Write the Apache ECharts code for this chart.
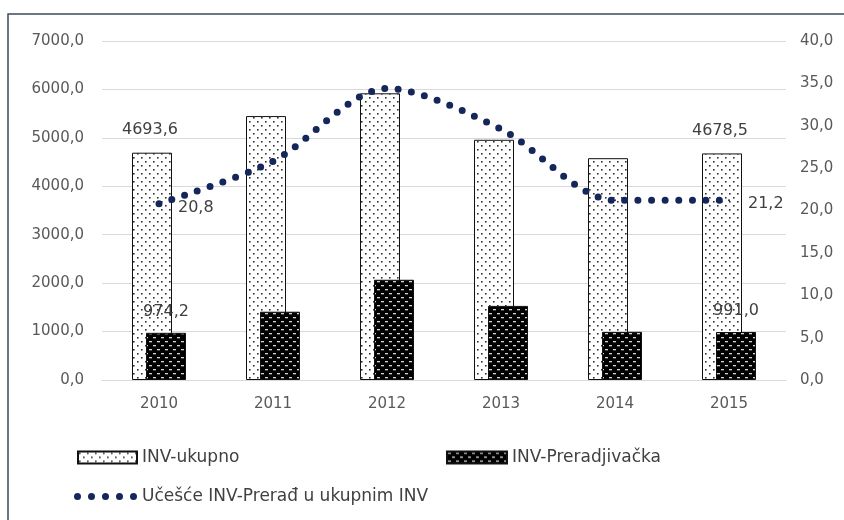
<!DOCTYPE html>
<html>
<head>
<meta charset="utf-8">
<script src="https://cdn.jsdelivr.net/npm/echarts@6/dist/echarts.min.js"></script>
<style>
  html, body { margin: 0; padding: 0; background: #fff; }
  #chart { width: 844px; height: 520px; }
</style>
</head>
<body>
<div id="chart"></div>
<script>
var years = ['2010', '2011', '2012', '2013', '2014', '2015'];
var invUkupno = [4693.6, 5450, 5920, 4960, 4580, 4678.5];
var invPrerad = [974.2, 1410, 2070, 1530, 995, 991.0];
var ucesce = [20.8, 25.8, 34.4, 29.6, 21.2, 21.2];
var leftTicks = { min: 0, max: 7000, interval: 1000 };
var rightTicks = { min: 0, max: 40, interval: 5 };

var FONT = 'DejaVu Sans';

// dotted fill for the total bars
function dotPattern() {
  var c = document.createElement('canvas');
  c.width = 8; c.height = 8;
  var ctx = c.getContext('2d');
  ctx.fillStyle = '#fff';
  ctx.fillRect(0, 0, 8, 8);
  ctx.fillStyle = '#333';
  ctx.fillRect(1, 1, 1.6, 1.6);
  ctx.fillRect(5, 5, 1.6, 1.6);
  return c;
}
// black fill with light dashes for the manufacturing bars
function dashPattern() {
  var c = document.createElement('canvas');
  c.width = 8; c.height = 8;
  var ctx = c.getContext('2d');
  ctx.fillStyle = '#000';
  ctx.fillRect(0, 0, 8, 8);
  ctx.fillStyle = '#d8d8d8';
  ctx.fillRect(1, 1, 3, 1.3);
  ctx.fillRect(5, 5, 3, 1.3);
  return c;
}

// five round dots for the line legend
var dotsIcon = 'path://';
for (var k = 0; k < 5; k++) {
  var cx = 3.5 + k * 14;
  dotsIcon += 'M' + (cx - 3.5) + ',3.5a3.5,3.5 0 1,0 7,0a3.5,3.5 0 1,0 -7,0z';
}

function fmt(v) {
  return v.toFixed(1).replace('.', ',');
}
function edgeLabels(arr, label) {
  return arr.map(function (v, i) {
    if (i === 0 || i === arr.length - 1) {
      return { value: v, label: label };
    }
    return v;
  });
}

var axisText = { color: '#595959', fontFamily: FONT, fontSize: 15 };
var labelText = { color: '#404040', fontFamily: FONT, fontSize: 16 };
var legendText = { color: '#404040', fontFamily: FONT, fontSize: 17 };

var chart = echarts.init(document.getElementById('chart'));
chart.setOption({
  backgroundColor: '#fff',
  animation: false,
  grid: { left: 102, right: 58, top: 41, bottom: 140 },
  graphic: [{
    type: 'rect',
    shape: { x: 8, y: 14, width: 900, height: 600 },
    style: { fill: null, stroke: '#3d4b5c', lineWidth: 1.5 },
    silent: true
  }],
  legend: [
    {
      data: ['INV-ukupno'], left: 72, top: 444, icon: 'rect',
      itemWidth: 59, itemHeight: 12, itemGap: 8,
      textStyle: legendText
    },
    {
      data: ['INV-Preradjivačka'], left: 441, top: 444, icon: 'rect',
      itemWidth: 60, itemHeight: 12, itemGap: 8,
      textStyle: legendText
    },
    {
      data: ['Učešće INV-Prerađ u ukupnim INV'], left: 69, top: 483,
      icon: dotsIcon,
      itemWidth: 63, itemHeight: 7, itemGap: 4,
      textStyle: legendText
    }
  ],
  xAxis: {
    type: 'category',
    data: years,
    axisLine: { show: true, lineStyle: { color: '#d9d9d9' } },
    axisTick: { show: false },
    axisLabel: Object.assign({ margin: 17 }, axisText)
  },
  yAxis: [
    {
      type: 'value',
      min: leftTicks.min, max: leftTicks.max, interval: leftTicks.interval,
      axisLine: { show: false },
      axisTick: { show: false },
      splitLine: { lineStyle: { color: '#d9d9d9' } },
      axisLabel: Object.assign({ margin: 18, formatter: fmt }, axisText)
    },
    {
      type: 'value',
      min: rightTicks.min, max: rightTicks.max, interval: rightTicks.interval,
      axisLine: { show: false },
      axisTick: { show: false },
      splitLine: { show: false },
      axisLabel: Object.assign({ margin: 14, formatter: fmt }, axisText)
    }
  ],
  series: [
    {
      name: 'INV-ukupno',
      type: 'bar',
      barWidth: 40,
      barGap: '-65%',
      itemStyle: {
        color: { image: dotPattern(), repeat: 'repeat' },
        borderColor: '#111', borderWidth: 1
      },
      data: edgeLabels(invUkupno, Object.assign({
        show: true, position: 'top', distance: 12, offset: [-2, -3],
        formatter: function (p) { return fmt(p.value); }
      }, labelText))
    },
    {
      name: 'INV-Preradjivačka',
      type: 'bar',
      barWidth: 40,
      itemStyle: {
        color: { image: dashPattern(), repeat: 'repeat' },
        borderColor: '#111', borderWidth: 1
      },
      data: edgeLabels(invPrerad, Object.assign({
        show: true, position: 'top', distance: 13,
        formatter: function (p) { return fmt(p.value); }
      }, labelText))
    },
    {
      name: 'Učešće INV-Prerađ u ukupnim INV',
      type: 'line',
      yAxisIndex: 1,
      smooth: 0.3,
      symbol: 'circle',
      symbolSize: 2,
      showSymbol: true,
      itemStyle: { color: '#15265a' },
      lineStyle: { color: '#15265a', width: 7, type: [0, 13.5], cap: 'round' },
      data: edgeLabels(ucesce, Object.assign({
        show: true, position: 'right', distance: 18, offset: [0, 4],
        formatter: function (p) { return fmt(p.value); }
      }, labelText))
    }
  ]
});
</script>
</body>
</html>
